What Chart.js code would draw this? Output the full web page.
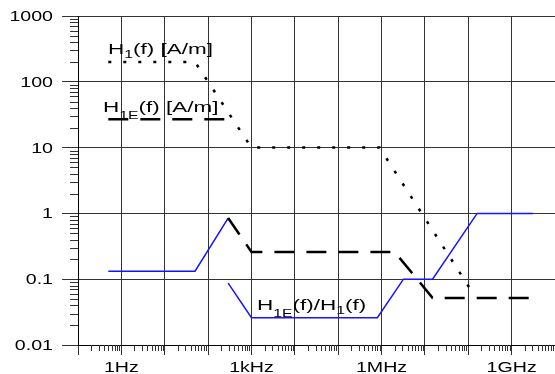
<!DOCTYPE html>
<html>
<head>
<meta charset="utf-8">
<script src="https://cdn.jsdelivr.net/npm/chart.js@4.4.0/dist/chart.umd.min.js"></script>
<style>
  html, body { margin: 0; padding: 0; background: #fff; }
  #wrap { width: 555px; height: 374px; }
</style>
</head>
<body>
<div id="wrap"><canvas id="fieldChart"></canvas></div>
<script>
// H1(f) [A/m] (dotted)
var h1Freq = [0.5, 50, 1000, 9e5, 1.25e8];
var h1Vals = [200, 200, 10, 10, 0.063];

// H1E(f) [A/m] (dashed), null = break in the line
var h1eFreq = [0.5, 250, 250, 290, 1000, 2e6, 1.5e7, 3.1e9];
var h1eVals = [27, 27, null, 0.85, 0.26, 0.26, 0.052, 0.052];

// H1E(f)/H1(f) (blue)
var ratioFreq = [0.5, 50, 290, 290, 290, 1000, 8e5, 3.2e6, 1.5e7, 1.6e8, 3.1e9];
var ratioVals = [0.132, 0.132, 0.85, null, 0.087, 0.026, 0.026, 0.1, 0.1, 1, 1];

// axis labels
var yTickVals = [0.01, 0.1, 1, 10, 100, 1000];
var yTickLabels = ["0.01", "0.1", "1", "10", "100", "1000"];
var xTickVals = [1, 1e3, 1e6, 1e9];
var xTickLabels = ["1Hz", "1kHz", "1MHz", "1GHz"];

var FONT = "'Liberation Sans', Arial, sans-serif";

function toPoints(xs, ys) {
  return xs.map(function (x, i) { return { x: x, y: ys[i] }; });
}

function decades(from, to) {
  var t = [];
  for (var k = from; k <= to; k++) t.push({ value: Math.pow(10, k) });
  return t;
}

// text drawn a bit wider than the font, like the original
function drawStretched(ctx, parts, x, y, size, sx, align) {
  ctx.save();
  ctx.font = size + "px " + FONT;
  var w = 0;
  parts.forEach(function (p) {
    ctx.font = (p[1] ? size * 0.7 : size) + "px " + FONT;
    w += ctx.measureText(p[0]).width;
  });
  var start = 0;
  if (align === "right") start = -w;
  if (align === "center") start = -w / 2;
  ctx.translate(x, y);
  ctx.scale(sx, 1);
  ctx.fillStyle = "#000";
  ctx.textBaseline = "alphabetic";
  ctx.textAlign = "left";
  var cx = start;
  parts.forEach(function (p) {
    ctx.font = (p[1] ? size * 0.7 : size) + "px " + FONT;
    ctx.fillText(p[0], cx, p[1] || 0);
    cx += ctx.measureText(p[0]).width;
  });
  ctx.restore();
}

var axisDecor = {
  id: "axisDecor",
  afterDraw: function (chart) {
    var ctx = chart.ctx;
    var xs = chart.scales.x, ys = chart.scales.y;
    var area = chart.chartArea;

    // minor log ticks
    ctx.save();
    ctx.strokeStyle = "#333";
    ctx.lineWidth = 1;
    ctx.beginPath();
    for (var k = -1; k < 10; k++) {
      for (var m = 2; m < 10; m++) {
        var px = Math.round(xs.getPixelForValue(m * Math.pow(10, k))) + 0.5;
        ctx.moveTo(px, area.bottom);
        ctx.lineTo(px, area.bottom + 6);
      }
    }
    for (var j = -2; j < 3; j++) {
      for (var n = 2; n < 10; n++) {
        var py = Math.round(ys.getPixelForValue(n * Math.pow(10, j))) + 0.5;
        ctx.moveTo(area.left, py);
        ctx.lineTo(area.left - 8, py);
      }
    }
    ctx.stroke();
    ctx.restore();

    // tick labels
    yTickVals.forEach(function (v, i) {
      drawStretched(ctx, [[yTickLabels[i], 0]], 53, ys.getPixelForValue(v) + 5, 14, 1.4, "right");
    });
    xTickVals.forEach(function (v, i) {
      drawStretched(ctx, [[xTickLabels[i], 0]], xs.getPixelForValue(v), 372, 14, 1.4, "center");
    });

    // curve labels
    drawStretched(ctx, [["H", 0], ["1", 4], ["(f) [A/m]", 0]], 108, 54, 15, 1.5);
    drawStretched(ctx, [["H", 0], ["1E", 7], ["(f) [A/m]", 0]], 103, 112, 15, 1.5);
    drawStretched(ctx, [["H", 0], ["1E", 7], ["(f)/H", 0], ["1", 4], ["(f)", 0]], 257, 310, 15, 1.5);
  }
};

var ctx = document.getElementById("fieldChart").getContext("2d");
var fieldChart = new Chart(ctx, {
  type: "line",
  data: {
    datasets: [
      {
        label: "H1(f) [A/m]",
        data: toPoints(h1Freq, h1Vals),
        borderColor: "#000",
        borderWidth: 2.5,
        borderDash: [3, 12],
        pointRadius: 0,
        spanGaps: false,
      },
      {
        label: "H1E(f) [A/m]",
        data: toPoints(h1eFreq, h1eVals),
        borderColor: "#000",
        borderWidth: 2.5,
        borderDash: [20, 12],
        pointRadius: 0,
        spanGaps: false,
      },
      {
        label: "H1E(f)/H1(f)",
        data: toPoints(ratioFreq, ratioVals),
        borderColor: "#1414ff",
        borderWidth: 1.5,
        pointRadius: 0,
        spanGaps: false,
      },
    ],
  },
  options: {
    responsive: true,
    maintainAspectRatio: false,
    animation: false,
    layout: { padding: { top: 16, right: 0, left: 0, bottom: 0 } },
    plugins: {
      legend: { display: false },
      tooltip: { enabled: false },
    },
    scales: {
      x: {
        type: "logarithmic",
        min: 0.1,
        max: 1e10,
        afterBuildTicks: function (scale) { scale.ticks = decades(-1, 10); },
        afterFit: function (scale) { scale.height = 29; },
        ticks: { display: false },
        grid: { color: "#333", lineWidth: 1, tickLength: 10, tickColor: "#333" },
        border: { display: true, color: "#000", width: 1 },
      },
      y: {
        type: "logarithmic",
        min: 0.01,
        max: 1000,
        afterBuildTicks: function (scale) { scale.ticks = decades(-2, 3); },
        afterFit: function (scale) { scale.width = 78; },
        ticks: { display: false },
        grid: { color: "#333", lineWidth: 1, tickLength: 16, tickColor: "#333" },
        border: { display: true, color: "#000", width: 1 },
      },
    },
  },
  plugins: [axisDecor],
});
</script>
</body>
</html>
